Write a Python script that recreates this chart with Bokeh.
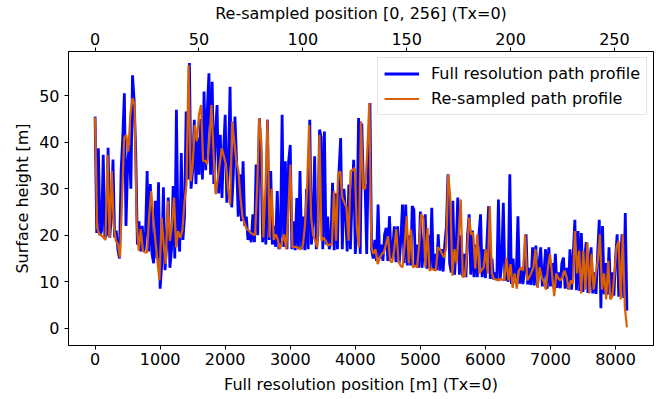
import numpy as np
from bokeh.plotting import figure
from bokeh.models import Range1d, LinearAxis, FixedTicker, Legend, LegendItem
from bokeh.embed import file_html
from bokeh.resources import INLINE

# ---------------- data ----------------
full_step_m = 25.0
resampled_intervals = 256

# Full resolution path profile (surface height, m), one value every 25 m
full_height = [
    45.5, 20.5, 38.7, 20.0, 21, 37.3, 19.5, 20, 38.8, 19.5, 24, 36.3, 19.5, 21, 17, 15.0,
    33.8, 41, 50.5, 22, 35, 39.4, 30, 54.4, 49, 38, 18, 23, 16.5, 22, 16.5, 20, 33.8, 16.5,
    31.0, 16, 14, 27.4, 15, 31.4, 8.5, 14, 30.3, 12.5, 18, 28.1, 13, 17, 30.6, 15, 47.0, 20,
    16.5, 37.7, 19, 24,
    46.6, 32, 57.0, 30, 34, 44.8, 31, 41, 33, 45, 32, 50.9, 34, 47, 54.8, 33, 53.0, 31, 42,
    48.0, 29, 41.6, 28, 38, 45.9, 27, 36, 51.9, 26, 33, 45.5, 35.9, 24, 33.1, 23, 35.9, 22,
    24, 19, 21, 18.5, 24.5, 18.5, 35.2, 20, 45.2, 38, 18.5, 25, 18, 44.8, 19, 33.8,
    18, 22, 17.5, 29.5, 17, 20, 45.9, 17.5, 35.9, 17, 35.9, 39.4, 17, 23, 16.8, 28, 17, 33.8,
    17, 24, 16.8, 30, 17, 44.8, 18, 23, 37.0, 17, 20, 42.7, 41, 17, 42.3, 18, 24, 17, 19,
    31.3, 16.8, 29, 17, 34, 40.9, 17, 30, 25, 16.5, 30.9, 17, 28, 36.2, 16, 22, 45.2, 16,
    44, 30, 31,
    16, 36, 48.4, 17, 15, 19, 14.5, 26.6, 15, 18, 14.5, 20.2, 21.6, 14.5, 24.1, 15, 17, 21.9,
    14.2, 21.9, 14, 19, 26.6, 14, 26.6, 13.5, 20, 13.5, 26.3, 25.5, 13.2, 18, 13, 25.1, 13,
    17, 24.5, 12.8, 20, 12.8, 25.9, 12.6, 16, 12.5, 20.2, 12.4, 17, 12.2, 18, 21.9, 33.1, 14,
    12, 27.4, 11.5,
    17, 28.1, 11.5, 20, 11.2, 16, 11, 20, 24.5, 11.5, 21, 11, 18, 11, 20, 24.5, 11, 17, 10.8,
    19, 26.3, 10.6, 15, 10.5, 12, 10.4, 27.7, 10.3, 14, 27.0, 10.2, 13, 10, 33.1, 9.5, 15,
    9.8, 12, 24.1, 9.6, 13, 9.5, 12, 20.2, 9.4, 13, 9.3, 17.4, 9.2, 17.8, 9, 14, 17.4, 9, 12,
    17, 8.5, 17.4, 9,
    14, 8.8, 16, 8.7, 12, 8.6, 14, 15.2, 8.5, 13, 8.4, 17, 8.3, 16, 23.3, 8.2, 20.9, 8, 20.5,
    7.8, 15, 18.5, 7.6, 14, 17.4, 7.5, 12, 7.4, 16, 23.3, 4.3, 22, 7.3, 14, 7.2, 17.4, 7, 12,
    7, 15, 20.2, 6.8, 14, 20.2, 6.5, 24.8, 3.8,
]

# Re-sampled path profile (257 samples, index 0..256)
resampled_height = [
    45.3, 21.6, 20.2, 20.0, 19.5, 19.0, 37.3, 19.5, 33.8, 22.0,
    18.8, 18.0, 15.2, 28.0, 40.9, 41.6, 38.0, 46.0, 49.5, 48.0,
    23.1, 16.7, 21.3, 16.7, 16.3, 16.3, 24.0, 29.5, 23.8, 19.0,
    14.5, 10.3, 23.8, 18.0, 13.8, 27.4, 18.8, 22.0, 28.1, 17.4,
    20.9, 19.5, 21.0, 27.0, 31.0, 56.6, 31.6, 35.2, 43.7, 40.2,
    45.9, 48.0, 36.0, 36.0, 35.2, 40.0, 48.0, 38.0, 28.8, 32.0,
    35.2, 38.7, 37.0, 35.2, 30.0, 26.6, 44.5, 40.0, 35.9, 33.8,
    28.0, 23.8, 22.5, 21.3, 21.0, 20.5, 20.2, 20.0, 30.0, 45.2,
    40.0, 19.5, 30.0, 44.8, 19.5, 30.0, 19.0, 20.2, 19.0, 17.0,
    18.5, 20.2, 17.0, 25.0, 35.2, 17.4, 17.5, 17.5, 17.2, 17.0,
    17.8, 22.0, 29.8, 43.7, 23.8, 20.0, 18.8, 17.4, 41.6, 18.8,
    19.5, 18.8, 17.8, 18.0, 18.0, 29.5, 18.8, 33.1, 33.8, 28.1,
    27.0, 26.0, 18.8, 33.8, 34.0, 34.5, 21.6, 17.4, 44.5, 30.0,
    30.0, 38.0, 48.4, 17.4, 16.0, 17.0, 13.8, 15.0, 16.0, 16.3,
    18.0, 19.8, 14.5, 14.2, 17.0, 21.3, 14.5, 13.5, 13.1, 18.0,
    24.1, 14.0, 21.3, 13.1, 13.5, 13.1, 18.0, 24.5, 23.8, 13.1,
    21.6, 12.4, 12.8, 12.6, 12.4, 17.4, 17.0, 16.0, 15.2, 17.4,
    33.1, 28.1, 11.3, 17.0, 14.0, 20.0, 27.7, 11.0, 11.3, 16.0,
    23.8, 20.2, 20.5, 12.8, 20.2, 11.8, 12.5, 13.0, 17.0, 11.8,
    26.3, 11.8, 10.6, 10.5, 10.3, 10.6, 10.5, 10.3, 15.2, 10.3,
    13.8, 8.7, 11.8, 8.5, 12.4, 13.1, 12.4, 20.2, 10.3, 11.0,
    12.0, 13.1, 17.0, 8.7, 13.1, 11.0, 10.0, 8.3, 13.1, 16.0,
    11.5, 6.9, 11.8, 10.7, 10.3, 11.0, 12.4, 11.0, 8.3, 10.3,
    9.6, 20.9, 11.8, 16.7, 7.5, 16.7, 8.3, 18.5, 7.5, 16.0,
    8.3, 11.8, 14.5, 20.2, 8.3, 11.8, 6.2, 14.5, 6.2, 6.9,
    11.8, 17.4, 18.8, 6.2, 20.2, 4.6, 0.2,
]

bottom_ticks = [0, 1000, 2000, 3000, 4000, 5000, 6000, 7000, 8000]
top_ticks = [0, 50, 100, 150, 200, 250]
left_ticks = [0, 10, 20, 30, 40, 50]

# ---------------- derived coordinates ----------------
x_full = np.arange(len(full_height)) * full_step_m
L = float(x_full[-1])
x_res = np.arange(len(resampled_height)) * L / (len(resampled_height) - 1)

FONT = "DejaVu Sans"
FS = "16px"

p = figure(width=672, height=399, output_backend="svg", toolbar_location=None,
           x_range=Range1d(-0.05 * L, 1.05 * L), y_range=Range1d(-3.7, 59.5),
           x_axis_location=None, y_axis_location=None,
           min_border_left=68, min_border_right=19, min_border_top=50,
           min_border_bottom=54)
p.extra_x_ranges = {"res": Range1d(-0.05 * resampled_intervals, 1.05 * resampled_intervals)}

p.xgrid.visible = False
p.ygrid.visible = False
p.outline_line_color = "black"
p.outline_line_width = 1
p.background_fill_color = "white"
p.border_fill_color = "white"

r_full = p.line(x_full, full_height, line_color="#0000ff", line_width=2.8)
r_res = p.line(x_res, resampled_height, line_color="#d95f02", line_width=2.2)

bottom_axis = LinearAxis(axis_label="Full resolution position [m] (Tx=0)",
                         ticker=FixedTicker(ticks=bottom_ticks))
top_axis = LinearAxis(x_range_name="res", axis_label="Re-sampled position [0, 256] (Tx=0)",
                      ticker=FixedTicker(ticks=top_ticks))
left_axis = LinearAxis(axis_label="Surface height [m]", ticker=FixedTicker(ticks=left_ticks))
p.add_layout(bottom_axis, "below")
p.add_layout(top_axis, "above")
p.add_layout(left_axis, "left")

for ax in (bottom_axis, top_axis, left_axis):
    ax.axis_label_text_font = FONT
    ax.axis_label_text_font_size = FS
    ax.axis_label_text_font_style = "normal"
    ax.axis_label_text_color = "black"
    ax.major_label_text_font = FONT
    ax.major_label_text_font_size = FS
    ax.major_label_text_color = "black"
    ax.axis_line_color = "black"
    ax.major_tick_line_color = "black"
    ax.major_tick_in = 0
    ax.major_tick_out = 4
    ax.minor_tick_in = 0
    ax.minor_tick_out = 0
    ax.major_label_standoff = 3
    ax.axis_label_standoff = 7
left_axis.major_label_standoff = 5
left_axis.axis_label_standoff = 4

legend = Legend(items=[
    LegendItem(label="Full resolution path profile", renderers=[r_full]),
    LegendItem(label="Re-sampled path profile", renderers=[r_res]),
], location="top_right")
legend.label_text_font = FONT
legend.label_text_font_size = FS
legend.label_text_color = "black"
legend.glyph_width = 35
legend.glyph_height = 19
legend.label_height = 19
legend.label_standoff = 12
legend.spacing = 6
legend.padding = 6
legend.margin = 6
legend.border_line_color = "#cccccc"
legend.border_line_width = 1
legend.background_fill_alpha = 0.8
p.add_layout(legend, "center")

open("out.html", "w").write(file_html(p, INLINE))
